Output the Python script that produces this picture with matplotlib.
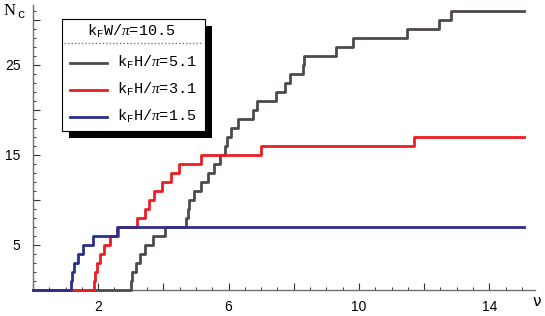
import matplotlib
matplotlib.use("Agg")
import matplotlib.pyplot as plt
from matplotlib.ticker import MultipleLocator, FuncFormatter
from matplotlib.patches import Rectangle
from matplotlib.lines import Line2D

# ---- data (step positions) ----
nu_blue = [0, 1.17, 1.20, 1.27, 1.37, 1.52, 1.83, 2.58, 15.07]
nc_blue = [0, 1, 2, 3, 4, 5, 6, 7, 7]

nu_red = [0, 1.88, 1.91, 1.95, 2.05, 2.17, 2.37, 2.62, 3.19, 3.44, 3.57,
          3.71, 3.97, 4.23, 4.49, 5.15, 7.00, 11.70, 15.07]
nc_red = [0, 1, 2, 3, 4, 5, 6, 7, 8, 9, 10, 11, 12, 13, 14, 15, 16, 17, 17]

nu_grey = [0, 3.00, 3.05, 3.15, 3.28, 3.43, 3.67, 4.06, 4.70, 4.74, 4.80,
           4.93, 5.15, 5.36, 5.56, 5.75, 5.90, 5.95, 6.07, 6.28, 6.76, 6.87,
           7.46, 7.72, 7.88, 8.29, 8.32, 9.29, 9.81, 11.46, 12.44, 12.81, 15.07]
nc_grey = [0, 1, 2, 3, 4, 5, 6, 7, 8, 9, 10, 11, 12, 13, 14, 15, 16, 17, 18,
           19, 20, 21, 22, 23, 24, 25, 26, 27, 28, 29, 30, 31, 31]

labels = [r"k$_\mathregular{F}$H/$\pi$=5.1",
          r"k$_\mathregular{F}$H/$\pi$=3.1",
          r"k$_\mathregular{F}$H/$\pi$=1.5"]
legend_title = r"k$_\mathregular{F}$W/$\pi$=10.5"
x_labeled = [2, 6, 10, 14]
y_labeled = [5, 15, 25]

c_grey = "#4f4a4a"
c_red = "#ee1d25"
c_blue = "#2b2e8c"

plt.rcParams['mathtext.fontset'] = 'custom'
plt.rcParams['mathtext.rm'] = 'Liberation Mono'
plt.rcParams['mathtext.it'] = 'Liberation Serif:italic'

W, H = 545, 316
fig = plt.figure(figsize=(W / 100, H / 100), dpi=100)
x0, x1 = 33, 535
y0, y1 = 290, 5
ax = fig.add_axes([x0 / W, 1 - y0 / H, (x1 - x0) / W, (y0 - y1) / H])
ax.set_xlim(0, 15.4)
ax.set_ylim(0, 31.65)

lw = 2.0
ax.plot(nu_grey, nc_grey, drawstyle='steps-post', color=c_grey, lw=lw, zorder=3, clip_on=False)
ax.plot(nu_red, nc_red, drawstyle='steps-post', color=c_red, lw=lw, zorder=4, clip_on=False)
ax.plot(nu_blue, nc_blue, drawstyle='steps-post', color=c_blue, lw=lw, zorder=5, clip_on=False)

for s in ['top', 'right']:
    ax.spines[s].set_visible(False)
for s in ['left', 'bottom']:
    ax.spines[s].set_color('#6e6e6e')
    ax.spines[s].set_linewidth(1.0)

ax.xaxis.set_major_locator(MultipleLocator(2))
ax.xaxis.set_minor_locator(MultipleLocator(0.5))
ax.yaxis.set_major_locator(MultipleLocator(5))
ax.yaxis.set_minor_locator(MultipleLocator(1))
ax.xaxis.set_major_formatter(FuncFormatter(lambda v, p: f"{int(round(v))}" if int(round(v)) in x_labeled else ""))
ax.yaxis.set_major_formatter(FuncFormatter(lambda v, p: f"{int(round(v))}" if int(round(v)) in y_labeled else ""))
ax.tick_params(which='major', direction='in', length=5, width=0.8, color='#333333',
               labelsize=10)
ax.tick_params(axis='x', which='major', pad=7)
ax.tick_params(axis='y', which='major', pad=9)
ax.tick_params(which='minor', direction='in', length=2.5, width=0.7, color='#333333')
for lab in ax.get_xticklabels() + ax.get_yticklabels():
    lab.set_family('Liberation Sans')

# axis labels
fig.text(4 / W, 1 - 11 / H, "N", family='Liberation Serif', fontsize=12, va='center', ha='left')
fig.text(17 / W, 1 - 15 / H, "c", family='Liberation Mono', fontsize=9, va='center', ha='left')
fig.text(537 / W, 1 - 302 / H, "ν", family='DejaVu Sans', fontsize=11, va='center', ha='center')

# legend (drawn manually, in figure pixel positions)
def fx(px):
    return px / W

def fy(py):
    return 1 - py / H

bl, br, bt, bb = 62, 205, 19, 131
sh = 7
ax.add_patch(Rectangle((fx(br), fy(bb + sh)), sh / W, (bb - bt) / H,
                       transform=fig.transFigure, facecolor='black', edgecolor='none',
                       zorder=20, clip_on=False))
ax.add_patch(Rectangle((fx(bl + sh), fy(bb + sh)), (br + sh - bl - sh) / W, sh / H,
                       transform=fig.transFigure, facecolor='black', edgecolor='none',
                       zorder=20, clip_on=False))
ax.add_patch(Rectangle((fx(bl), fy(bb)), (br - bl) / W, (bb - bt) / H,
                       transform=fig.transFigure, facecolor='white', edgecolor='black',
                       lw=0.8, zorder=21, clip_on=False))
ax.add_line(Line2D([fx(bl + 2), fx(br - 2)], [fy(43), fy(43)], transform=fig.transFigure,
                   color='#777777', lw=1.0, ls=(0, (1, 1.5)), zorder=22, clip_on=False))
ax.text(fx(131), fy(31), legend_title, transform=fig.transFigure, family='Liberation Mono',
        fontsize=11, ha='center', va='center', zorder=23)
rows = [63, 90, 117]
for ry, col, lab in zip(rows, [c_grey, c_red, c_blue], labels):
    ax.add_line(Line2D([fx(70), fx(107)], [fy(ry), fy(ry)], transform=fig.transFigure,
                       color=col, lw=lw, zorder=22, clip_on=False))
    ax.text(fx(117), fy(ry - 1), lab, transform=fig.transFigure, family='Liberation Mono',
            fontsize=11, ha='left', va='center', zorder=23)

fig.savefig("out.png", dpi=100)
